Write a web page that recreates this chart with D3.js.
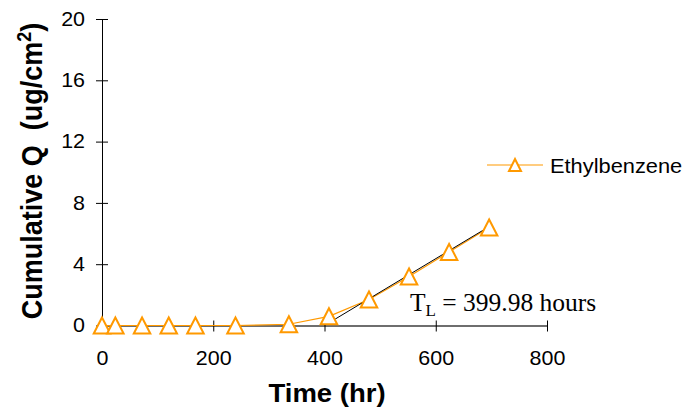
<!DOCTYPE html>
<html>
<head>
<meta charset="utf-8">
<script src="https://cdn.jsdelivr.net/npm/d3@7"></script>
<style>
  html, body { margin: 0; padding: 0; background: #ffffff; }
  svg { display: block; }
  text { white-space: pre; }
</style>
</head>
<body>
<svg id="chart" width="689" height="417"></svg>
<script>
// Sampling times (hours) and cumulative permeated amount (ug/cm^2)
const times = [0, 24, 72, 120, 168, 240, 336, 408, 480, 552, 624, 696];
const cumQ  = [0, 0, 0, 0, 0, 0, 0.08, 0.6, 1.7, 3.2, 4.8, 6.4];
const seriesName = "Ethylbenzene";

// Steady-state fit: intercept on the time axis is the lag time
const lagTime = 399.98;
const fitSlope = 0.0218;
const fitEnd = 696;

const xTicks = [0, 200, 400, 600, 800];
const yTicks = [0, 4, 8, 12, 16, 20];

const orange = "#FF9900";
const svg = d3.select("#chart");

const x = d3.scaleLinear().domain([0, 800]).range([102, 547]);
const y = d3.scaleLinear().domain([0, 20]).range([325.5, 19]);

const sans = "Liberation Sans, Arial, sans-serif";
const stretch = 1.1; // slightly wide lettering

// Y axis
const yAxis = d3.axisLeft(y).tickValues(yTicks).tickSizeInner(6).tickSizeOuter(0).tickPadding(11);
const gy = svg.append("g").attr("transform", `translate(${x(0)},0)`).call(yAxis);
gy.select(".domain").attr("stroke", "#000").attr("stroke-width", 1);
gy.selectAll(".tick line").attr("x2", 6).attr("x1", -6).attr("stroke", "#000");
gy.selectAll(".tick text")
  .attr("font-family", sans).attr("font-size", 19.5).attr("fill", "#000")
  .attr("x", -17 / stretch)
  .attr("transform", `scale(${stretch},1)`);

// X axis
const xAxis = d3.axisBottom(x).tickValues(xTicks).tickSizeInner(5).tickSizeOuter(0);
const gx = svg.append("g").attr("transform", `translate(0,${y(0)})`).call(xAxis);
gx.select(".domain").attr("stroke", "#6e6e6e").attr("stroke-width", 2);
gx.selectAll(".tick line").attr("y1", -5).attr("y2", 6).attr("stroke", "#000");
gx.selectAll(".tick text")
  .attr("font-family", sans).attr("font-size", 19.5).attr("fill", "#000")
  .attr("dy", null).attr("y", 39.5)
  .attr("transform", `scale(${stretch},1)`);

// Axis titles
svg.append("text")
  .attr("transform", `translate(41.5,171) rotate(-90) scale(1,${stretch})`)
  .attr("text-anchor", "middle")
  .attr("font-family", sans).attr("font-weight", "bold").attr("font-size", 27)
  .attr("fill", "#000")
  .call(t => {
    t.append("tspan").text("Cumulative Q  (ug/cm");
    t.append("tspan").attr("dy", -10).attr("font-size", 18).text("2");
    t.append("tspan").attr("dy", 10).text(")");
  });

svg.append("text")
  .attr("transform", `translate(327,402) scale(${stretch},1)`)
  .attr("text-anchor", "middle")
  .attr("font-family", sans).attr("font-weight", "bold").attr("font-size", 25)
  .attr("fill", "#000")
  .text("Time (hr)");

// Data series line
const pts = times.map((t, i) => [t, cumQ[i]]);
svg.append("path")
  .datum(pts)
  .attr("fill", "none").attr("stroke", orange).attr("stroke-width", 1.2)
  .attr("d", d3.line().x(d => x(d[0])).y(d => y(d[1])));

// Linear fit of the steady-state region
const fitPts = [[lagTime, 0], [fitEnd, fitSlope * (fitEnd - lagTime)]];
svg.append("path")
  .datum(fitPts)
  .attr("fill", "none").attr("stroke", "#000").attr("stroke-width", 1)
  .attr("d", d3.line().x(d => x(d[0])).y(d => y(d[1])));

// Triangle markers, centred on their bounding box
function tri(w, h) {
  return `M0,${-h / 2}L${w / 2},${h / 2}L${-w / 2},${h / 2}Z`;
}
svg.append("g").selectAll("path")
  .data(pts)
  .join("path")
  .attr("transform", d => `translate(${x(d[0])},${y(d[1])})`)
  .attr("d", tri(16.5, 16))
  .attr("fill", "#fff").attr("stroke", orange).attr("stroke-width", 2);

// Lag-time annotation
svg.append("text")
  .attr("x", 410).attr("y", 311)
  .attr("font-family", "Liberation Serif, Times New Roman, serif").attr("font-size", 25.5)
  .attr("fill", "#000")
  .call(t => {
    t.append("tspan").text("T");
    t.append("tspan").attr("font-size", 17).attr("dy", 5).text("L");
    t.append("tspan").attr("dy", -5).text(" = " + lagTime.toFixed(2) + " hours");
  });

// Legend
const lg = svg.append("g").attr("transform", "translate(487,165)");
lg.append("line").attr("x1", 0).attr("x2", 56).attr("stroke", orange).attr("stroke-width", 1.2);
lg.append("path").attr("transform", "translate(28,0)").attr("d", tri(12, 12))
  .attr("fill", "#fff").attr("stroke", orange).attr("stroke-width", 2);
lg.append("text").attr("transform", "translate(63,7.5) scale(1.04,1)")
  .attr("font-family", sans).attr("font-size", 21).attr("fill", "#000")
  .text(seriesName);
</script>
</body>
</html>
